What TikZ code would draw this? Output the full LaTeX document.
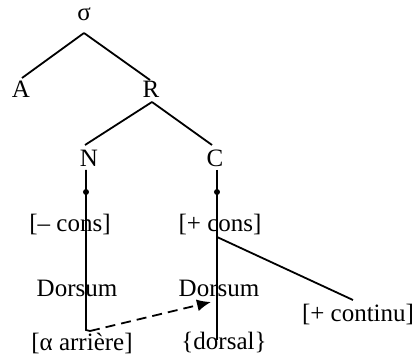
\documentclass[tikz,border=0pt]{standalone}
\usepackage{fontspec}
\setmainfont{Liberation Serif}
\usetikzlibrary{arrows.meta}

\begin{document}
\begin{tikzpicture}[
  x=0.5pt, y=-0.5pt,
  lbl/.style={inner sep=0pt, font=\fontsize{12.5}{14}\selectfont},
  branch/.style={line width=0.9pt},
  dotpt/.style={circle, fill=black, inner sep=0pt, minimum size=3pt},
]
  \useasboundingbox (0,0) rectangle (414,358);

  % tree labels
  \node[lbl] (sigma) at (84,14) {σ};
  \node[lbl] (A) at (21,89) {A};
  \node[lbl] (R) at (151,89) {R};
  \node[lbl] (N) at (89,158) {N};
  \node[lbl] (C) at (215,158) {C};
  \node[lbl] (ncons) at (70,225) {[– cons]};
  \node[lbl] (pcons) at (220,225) {[+ cons]};
  \node[lbl] (dorsN) at (77,288) {Dorsum};
  \node[lbl] (dorsC) at (219,288) {Dorsum};
  \node[lbl] (contin) at (358,315) {[+ continu]};
  \node[lbl] (arriere) at (82,343) {[α arrière]};
  \node[lbl] (dorsal) at (224,343) {\{dorsal\}};

  % line ends
  \coordinate (sigB) at (84,33);
  \coordinate (Rtop) at (150,80);
  \coordinate (Atop) at (22,78);
  \coordinate (Rbot) at (152,102);
  \coordinate (Ntop) at (85,145);
  \coordinate (Ctop) at (212,145);
  \coordinate (Nline) at (86,170);
  \coordinate (Nend) at (86,330);
  \coordinate (Nhook) at (90,331);
  \coordinate (Cline) at (217,170);
  \coordinate (Cend) at (217,340);
  \coordinate (Cmid) at (217,302);
  \coordinate (Cfork) at (217,237);
  \coordinate (contTop) at (353,300);

  \draw[branch] (sigB) -- (Atop);
  \draw[branch] (sigB) -- (Rtop);
  \draw[branch] (Rbot) -- (Ntop);
  \draw[branch] (Rbot) -- (Ctop);
  \draw[branch] (Nline) -- (Nend) -- (Nhook);
  \draw[branch] (Cline) -- (Cend);
  \draw[branch] (Cfork) -- (contTop);
  \node[dotpt] (dotN) at (86,192) {};
  \node[dotpt] (dotC) at (217,192) {};

  % spreading
  \draw[branch, dashed, dash pattern=on 5pt off 3pt, -{Latex[length=7pt, width=6pt]}]
    (Nhook) -- ([xshift=-3pt]Cmid);
\end{tikzpicture}
\end{document}
